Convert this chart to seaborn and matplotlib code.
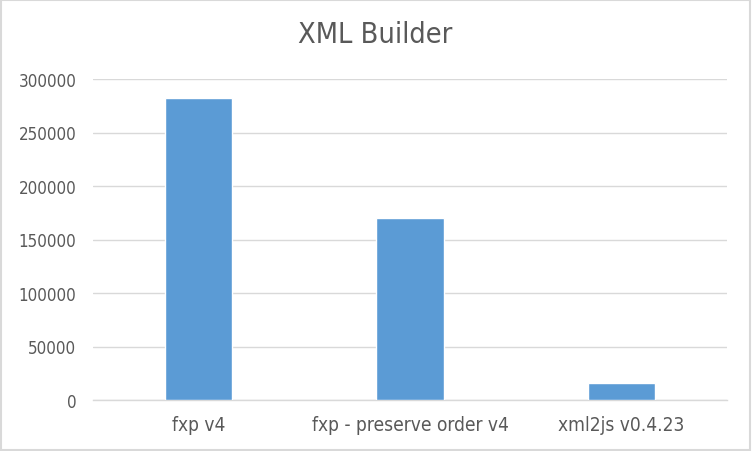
import matplotlib
matplotlib.use("Agg")
import matplotlib.pyplot as plt
import seaborn as sns
import pandas as pd
from matplotlib.patches import Rectangle

# data
libraries = ["fxp v4", "fxp - preserve order v4", "xml2js v0.4.23"]
ops_per_sec = [282000, 170000, 16000]
y_ticks = [0, 50000, 100000, 150000, 200000, 250000, 300000]

text_grey = "#595959"
grid_grey = "#d9d9d9"
bar_blue = "#5b9bd5"

sns.set_style("white")
plt.rcParams["font.family"] = ["DejaVu Sans"]
plt.rcParams["font.stretch"] = "condensed"

df = pd.DataFrame({"library": libraries, "value": ops_per_sec})

fig = plt.figure(figsize=(7.52, 4.52), dpi=100)
ax = fig.add_axes([93 / 752, 1 - 401 / 452, 634 / 752, 321 / 452])

sns.barplot(data=df, x="library", y="value", color=bar_blue, width=0.32,
            saturation=1, ax=ax, zorder=3)

ax.set_ylim(0, 300000)
ax.set_yticks(y_ticks)
ax.set_yticklabels([str(t) for t in y_ticks])
ax.set_xlim(-0.5, 2.5)
ax.grid(axis="y", color=grid_grey, linewidth=1, zorder=0)
ax.set_axisbelow(True)
for side in ["left", "right", "top"]:
    ax.spines[side].set_visible(False)
ax.spines["bottom"].set_color(grid_grey)
ax.spines["bottom"].set_linewidth(1)
ax.tick_params(axis="both", length=0, colors=text_grey)
ax.tick_params(axis="y", pad=12, labelsize=12.2)
ax.tick_params(axis="x", pad=11, labelsize=13.7)
ax.set_xlabel("")
ax.set_ylabel("")

fig.text(0.4993, 1 - 35 / 452, "XML Builder", ha="center", va="center",
         fontsize=20.7, color=text_grey)

fig.add_artist(Rectangle((0.001, 0.002), 0.997, 0.996, transform=fig.transFigure,
                         fill=False, edgecolor=grid_grey, linewidth=1.5))

fig.savefig("out.png", dpi=100)
